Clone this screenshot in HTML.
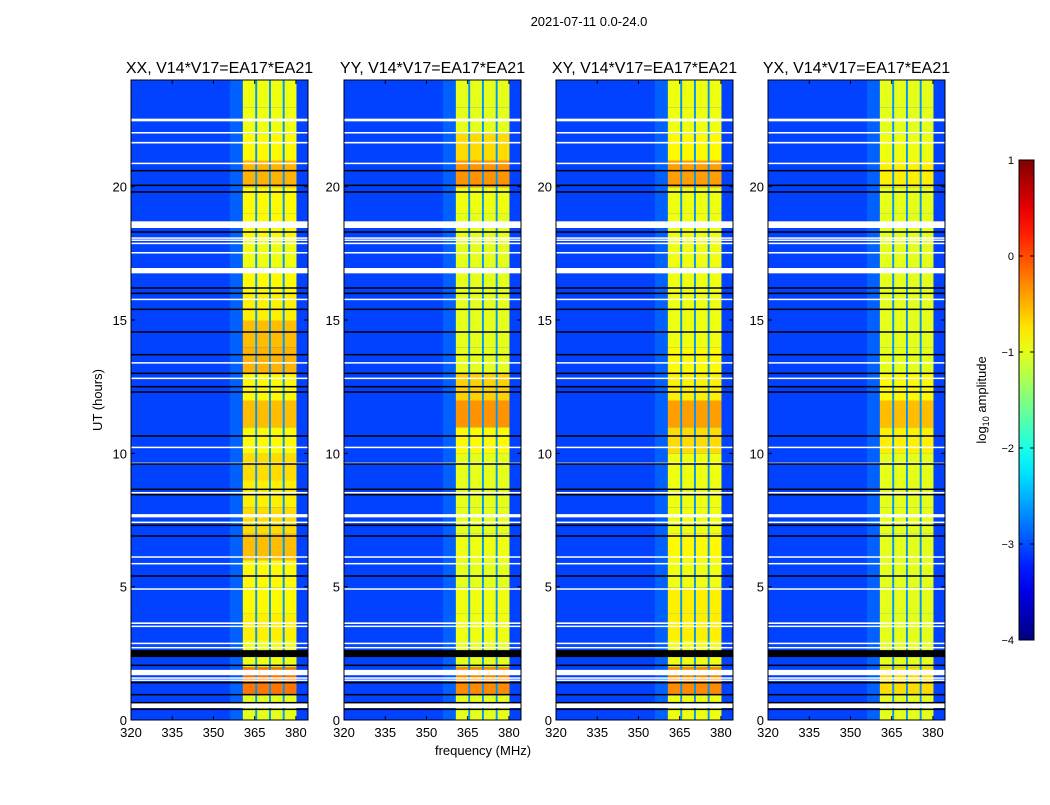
<!DOCTYPE html>
<html><head><meta charset="utf-8"><style>
body{margin:0;background:#fff;}
svg text{font-family:"Liberation Sans","DejaVu Sans",sans-serif;}
</style></head><body>
<svg id="fig" width="1050" height="800" xmlns="http://www.w3.org/2000/svg">
<rect width="1050" height="800" fill="#fff"/>
<text x="589" y="26" font-size="13" text-anchor="middle">2021-07-11 0.0-24.0</text>
<text x="483" y="755" font-size="13" text-anchor="middle">frequency (MHz)</text>
<text transform="translate(102,400) rotate(-90)" font-size="13" text-anchor="middle">UT (hours)</text>
<g id="panels"></g>
<g id="cbar"></g>
</svg>
<script>
const panelTitles = ["XX, V14*V17=EA17*EA21","YY, V14*V17=EA17*EA21","XY, V14*V17=EA17*EA21","YX, V14*V17=EA17*EA21"];
const xTicks = [320,335,350,365,380];
const yTicks = [0,5,10,15,20];
const subBands = [[360.7,365.2],[365.9,370.2],[370.9,375.2],[375.9,380.2]];
const backgroundLevel = -3.05;
const nearBandLevel = -2.9;
const gapLevel = -2.65;
const bandXX = [-1,-0.2,-0.95,-0.8,-0.85,-0.85,-0.55,-0.7,-0.8,-0.7,-0.85,-0.55,-0.85,-0.5,-0.55,-0.8,-0.85,-0.95,-0.85,-0.85,-0.5,-0.85,-0.95,-0.95];
const bandYY = [-1,-0.3,-1,-0.95,-0.95,-1,-0.95,-1,-1,-1,-0.85,-0.35,-0.65,-1,-1,-1,-1,-1,-1,-0.95,-0.35,-0.7,-1,-1];
const bandXY = [-0.95,-0.3,-0.95,-0.8,-0.8,-0.95,-0.85,-0.95,-0.95,-0.95,-0.7,-0.4,-0.8,-0.85,-0.95,-0.95,-0.95,-0.95,-0.95,-0.95,-0.4,-0.85,-0.95,-0.95];
const bandYX = [-1,-0.7,-1,-1,-1,-1,-1,-1,-1,-1,-0.8,-0.55,-0.85,-1,-1,-1,-1,-1,-1,-1,-0.8,-0.95,-1,-1];
const bandSeries = [bandXX,bandYY,bandXY,bandYX];
const whiteFlags = [[22.45,22.55],[22.0,22.05],[21.62,21.68],[20.85,20.9],[18.45,18.7],[18.05,18.1],[17.98,18.02],[17.85,17.9],[17.5,17.55],[16.75,16.95],[15.75,15.8],[13.37,13.42],[12.8,12.84],[10.2,10.25],[9.6,9.65],[8.5,8.55],[7.6,7.72],[7.4,7.44],[6.1,6.14],[5.85,5.89],[4.9,4.94],[3.6,3.66],[3.5,3.54],[2.86,2.9],[2.7,2.74],[1.68,1.88],[1.55,1.6],[1.48,1.52],[0.45,0.64]];
const blackLines = [20.6,20.05,19.8,18.3,16.2,16.0,15.4,14.55,13.7,13.0,12.5,12.3,10.65,9.6,8.65,8.45,7.3,6.9,5.4,2.05,1.4,0.95,0.65,0.4];
const blackBands = [[2.36,2.62]];
const cbarTicks = [1,0,-1,-2,-3,-4];

const NS="http://www.w3.org/2000/svg";
function mk(tag,attrs,parent){const e=document.createElementNS(NS,tag);for(const k in attrs)e.setAttribute(k,attrs[k]);parent.appendChild(e);return e;}
function jet(v){let t=(v+4)/5;t=Math.max(0,Math.min(1,t));
 const c=x=>Math.round(255*Math.max(0,Math.min(1,1.5-Math.abs(4*t-x))));
 return `rgb(${c(3)},${c(2)},${c(1)})`;}
const panelX=[131,344,556,768], PW=177, PT=80, PB=720;
const fmin=320,fmax=384.4,tmin=0,tmax=24;
const panelsG=document.getElementById('panels');
panelTitles.forEach((title,p)=>{
 const x0=panelX[p];
 const xs=f=>x0+(f-fmin)/(fmax-fmin)*PW;
 const ys=t=>PB-(t-tmin)/(tmax-tmin)*(PB-PT);
 const g=mk('g',{},panelsG);
 
 
 const band=bandSeries[p];
 for(let h=0;h<band.length;h++){
  const yTop=ys(h+1), yBot=ys(h);
  const bg=mk('rect',{x:xs(fmin),y:yTop,width:xs(fmax)-xs(fmin),height:yBot-yTop+0.5,fill:jet(backgroundLevel)},g);
  
  
  const nb=mk('rect',{x:xs(356),y:yTop,width:xs(360.7)-xs(356),height:yBot-yTop+0.5,fill:jet(nearBandLevel)},g);
  
  
  const gp=mk('rect',{x:xs(360.7),y:yTop,width:xs(380.2)-xs(360.7),height:yBot-yTop+0.5,fill:jet(gapLevel)},g);
  
  
  subBands.forEach(sb=>{
   const r=mk('rect',{x:xs(sb[0]),y:yTop,width:xs(sb[1])-xs(sb[0]),height:yBot-yTop+0.5,fill:jet(band[h])},g);
   
   
  });
 }
 whiteFlags.forEach(w=>{
  const r=mk('rect',{x:x0,y:ys(w[1]),width:PW,height:Math.max(1.5,ys(w[0])-ys(w[1])),fill:'#fff'},g);
  
  
 });
 blackBands.forEach(w=>{
  const r=mk('rect',{x:x0,y:ys(w[1]),width:PW,height:ys(w[0])-ys(w[1]),fill:'#000'},g);
  
  
 });
 blackLines.forEach(t=>{
  const r=mk('rect',{x:x0,y:ys(t)-0.75,width:PW,height:1.5,fill:'#000'},g);
  
  
 });
 const fr=mk('rect',{x:x0,y:PT,width:PW,height:PB-PT,fill:'none',stroke:'#000','stroke-width':1},g);
 
 
 const tt=mk('text',{x:x0+PW/2,y:73,'font-size':16,'text-anchor':'middle'},g);
 tt.textContent=title;
 
 
 xTicks.forEach(v=>{
  const x=xs(v);
  mk('line',{x1:x,x2:x,y1:PB,y2:PB-4,stroke:'#000'},g);
  mk('line',{x1:x,x2:x,y1:PT,y2:PT+4,stroke:'#000'},g);
  const t=mk('text',{x:x,y:737,'font-size':13,'text-anchor':'middle'},g);
  t.textContent=v;
  
  
 });
 yTicks.forEach(v=>{
  const y=ys(v);
  mk('line',{x1:x0,x2:x0+4,y1:y,y2:y,stroke:'#000'},g);
  mk('line',{x1:x0+PW,x2:x0+PW-4,y1:y,y2:y,stroke:'#000'},g);
  const t=mk('text',{x:x0-4,y:y+5,'font-size':13,'text-anchor':'end'},g);
  t.textContent=v;
  
  
 });
});
const cb=document.getElementById('cbar');
const CX=1019,CW=15,CT=160,CB=640,vmin=-4,vmax=1;
const cys=v=>CB-(v-vmin)/(vmax-vmin)*(CB-CT);
const defs=mk('defs',{},cb);
const grad=mk('linearGradient',{id:'jetg',x1:0,y1:1,x2:0,y2:0},defs);
for(let i=0;i<=20;i++){mk('stop',{offset:(i/20),'stop-color':jet(vmin+(vmax-vmin)*i/20)},grad);}
const cr=mk('rect',{x:CX,y:CT,width:CW,height:CB-CT,fill:'url(#jetg)',stroke:'#000'},cb);


cbarTicks.forEach(v=>{
 const y=cys(v);
 mk('line',{x1:CX,x2:CX+4,y1:y,y2:y,stroke:'#000'},cb);
 mk('line',{x1:CX+CW,x2:CX+CW-4,y1:y,y2:y,stroke:'#000'},cb);
 const t=mk('text',{x:CX-5,y:y+4,'font-size':11,'text-anchor':'end'},cb);
 t.textContent=v<0?'\u2212'+Math.abs(v):String(v);
 
 
});
const cl=mk('text',{transform:'translate(986,400) rotate(-90)','font-size':13,'text-anchor':'middle'},cb);
cl.innerHTML='log<tspan font-size="9" dy="3">10</tspan><tspan dy="-3"> amplitude</tspan>';


</script>
</body></html>
